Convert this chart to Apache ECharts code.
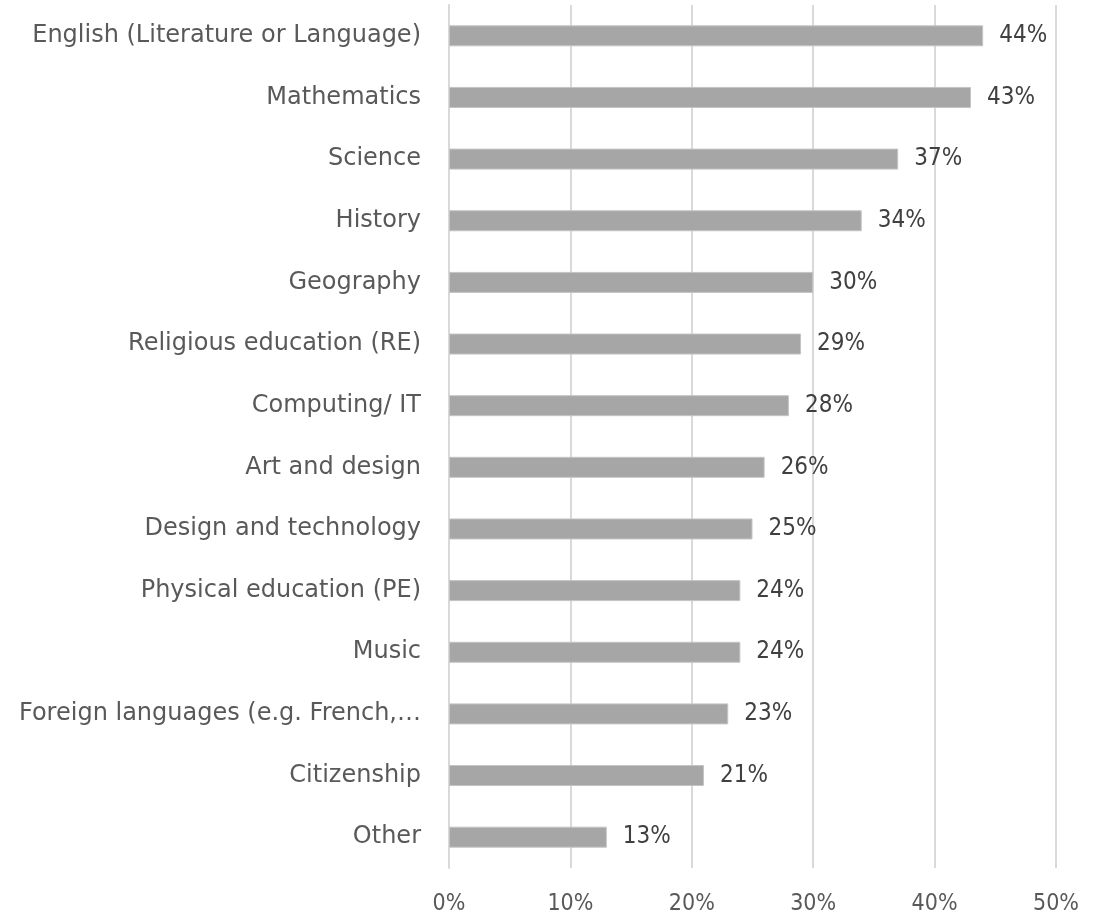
<!DOCTYPE html>
<html>
<head>
<meta charset="utf-8">
<script src="https://cdn.jsdelivr.net/npm/echarts@6/dist/echarts.min.js"></script>
<style>
html,body{margin:0;padding:0;background:#fff;}
#chart{width:1109px;height:917px;}
</style>
</head>
<body>
<div id="chart"></div>
<script>
var categories = [
  "English (Literature or Language)",
  "Mathematics",
  "Science",
  "History",
  "Geography",
  "Religious education (RE)",
  "Computing/ IT",
  "Art and design",
  "Design and technology",
  "Physical education (PE)",
  "Music",
  "Foreign languages (e.g. French,\u2026",
  "Citizenship",
  "Other"
];
var values = [44, 43, 37, 34, 30, 29, 28, 26, 25, 24, 24, 23, 21, 13];
var xTicks = [0, 10, 20, 30, 40, 50];

var FONT = "'DejaVu Sans Condensed', 'DejaVu Sans', sans-serif";
var CAT_FONT = "'DejaVu Sans', sans-serif";
var chart = echarts.init(document.getElementById('chart'));
chart.setOption({
  backgroundColor: '#ffffff',
  animation: false,
  grid: { left: 449, right: 53, top: 5, bottom: 49, containLabel: false },
  xAxis: {
    type: 'value',
    min: xTicks[0],
    max: xTicks[xTicks.length - 1],
    interval: 10,
    axisLine: { show: false },
    axisTick: { show: false },
    splitLine: { show: true, lineStyle: { color: '#d9d9d9', width: 2 } },
    axisLabel: {
      formatter: '{value}%',
      color: '#595959',
      fontSize: 23,
      fontFamily: FONT,
      margin: 25
    }
  },
  yAxis: {
    type: 'category',
    data: categories,
    inverse: true,
    axisLine: { show: true, lineStyle: { color: '#d9d9d9', width: 2 } },
    axisTick: { show: false },
    axisLabel: {
      color: '#595959',
      fontSize: 24,
      fontFamily: CAT_FONT,
      margin: 28
    }
  },
  series: [{
    type: 'bar',
    data: values,
    barWidth: 21,
    itemStyle: { color: '#a6a6a6', borderColor: '#c4c4c4', borderWidth: 1 },
    label: {
      show: true,
      position: 'right',
      distance: 16,
      formatter: '{c}%',
      color: '#404040',
      fontSize: 24,
      fontFamily: FONT
    }
  }]
});
</script>
</body>
</html>
